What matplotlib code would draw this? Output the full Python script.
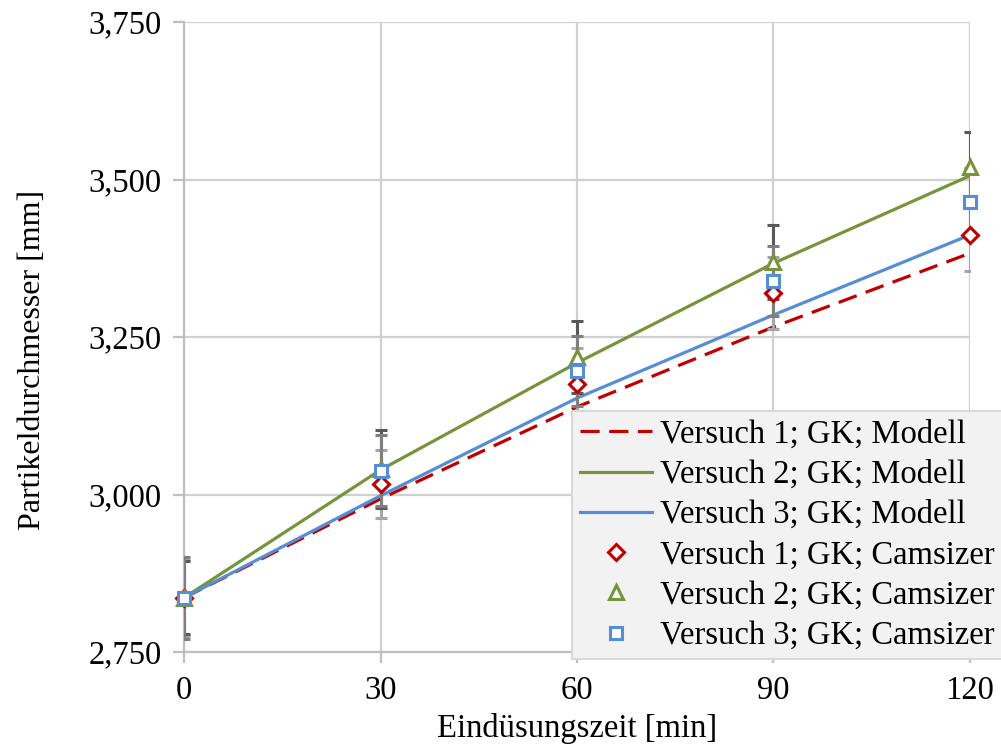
import matplotlib
matplotlib.use("Agg")
import matplotlib.pyplot as plt
from matplotlib.lines import Line2D
from matplotlib.ticker import FuncFormatter

# Eindüsungszeit [min]
zeit = [0, 30, 60, 90, 120]

# Modellkurven
modell_v1 = [2.836, 2.993, 3.139, 3.266, 3.383]
modell_v2 = [2.836, 3.039, 3.209, 3.367, 3.506]
modell_v3 = [2.836, 2.998, 3.153, 3.285, 3.412]

# Camsizer-Messwerte und Standardabweichungen
cam_v1 = [2.836, 3.016, 3.175, 3.320, 3.412]
cam_v2 = [2.836, 3.040, 3.218, 3.369, 3.520]
cam_v3 = [2.836, 3.038, 3.196, 3.339, 3.464]
err_v1 = [0.060, 0.054, 0.057, 0.057, 0.058]
err_v2 = [0.058, 0.062, 0.057, 0.059, 0.055]
err_v3 = [0.065, 0.056, 0.056, 0.056, 0.055]

labels = [
    "Versuch 1; GK; Modell",
    "Versuch 2; GK; Modell",
    "Versuch 3; GK; Modell",
    "Versuch 1; GK; Camsizer",
    "Versuch 2; GK; Camsizer",
    "Versuch 3; GK; Camsizer",
]

red = "#c00000"
green = "#77933c"
blue = "#558ed5"
grid_col = "#d0d0d0"
fs = 23.5

plt.rcParams["font.family"] = ["Liberation Serif", "DejaVu Serif"]
plt.rcParams["font.size"] = fs

fig = plt.figure(figsize=(10.01, 7.49), dpi=100)
ax = fig.add_axes([184 / 1001, 1 - 652 / 749, (970 - 184) / 1001, (652 - 22) / 749])

ax.set_xlim(0, 120)
ax.set_ylim(2.75, 3.75)
ax.set_xticks(zeit)
ax.set_yticks([2.75, 3.0, 3.25, 3.5, 3.75])
ax.yaxis.set_major_formatter(FuncFormatter(lambda v, p: f"{v:.3f}".replace(".", ",")))

ax.grid(True, color=grid_col, linewidth=1.6, zorder=0)
ax.set_axisbelow(True)
for s in ["top", "right"]:
    ax.spines[s].set_visible(False)
for s in ["left", "bottom"]:
    ax.spines[s].set_color("#bfbfbf")
    ax.spines[s].set_linewidth(1.6)
ax.tick_params(axis="both", colors="#bfbfbf", width=1.6, length=8, labelcolor="black",
               labelsize=fs)
ax.tick_params(axis="x", pad=9)
ax.tick_params(axis="y", pad=8)

# Modelllinien
ax.plot(zeit, modell_v1, color=red, lw=2.3, ls=(0, (6, 3)), zorder=3)
ax.plot(zeit, modell_v2, color=green, lw=2.3, zorder=3)
ax.plot(zeit, modell_v3, color=blue, lw=2.3, zorder=3)

# Fehlerbalken
for y, e, c in [(cam_v1, err_v1, "#a6a6a6"), (cam_v2, err_v2, "#595959"), (cam_v3, err_v3, "#7f7f7f")]:
    ax.errorbar(zeit, y, yerr=e, fmt="none", ecolor=c, elinewidth=2.2,
                capsize=4.5, capthick=2.2, zorder=4)

# Messpunkte
mk = dict(ls="none", markersize=9, markeredgewidth=2.2, markerfacecolor="white", zorder=5, clip_on=False)
ax.plot(zeit, cam_v1, marker="D", markeredgecolor=red, **{**mk, "markersize": 8})
ax.plot(zeit, cam_v2, marker="^", markeredgecolor=green, **{**mk, "markersize": 10})
ax.plot(zeit, cam_v3, marker="s", markeredgecolor=blue, **mk)

ax.set_xlabel("Eindüsungszeit [min]", fontsize=fs, labelpad=5)
ax.set_ylabel("Partikeldurchmesser [mm]", fontsize=23, labelpad=30)
ax.yaxis.label.set_y((652 - 360) / 630)

handles = [
    Line2D([], [], color=red, lw=2.3, ls=(0, (6, 3))),
    Line2D([], [], color=green, lw=2.3),
    Line2D([], [], color=blue, lw=2.3),
    Line2D([], [], ls="none", marker="D", markersize=8.5, markeredgewidth=2.2, markerfacecolor="white", markeredgecolor=red),
    Line2D([], [], ls="none", marker="^", markersize=9.5, markeredgewidth=2.2, markerfacecolor="white", markeredgecolor=green),
    Line2D([], [], ls="none", marker="s", markersize=8.5, markeredgewidth=2.2, markerfacecolor="white", markeredgecolor=blue),
]
leg = fig.legend(handles, labels, loc="upper left", bbox_to_anchor=(572 / 1001, 1 - 411 / 749),
                 fontsize=fs, frameon=True, fancybox=False, framealpha=1,
                 facecolor="#f2f2f2", edgecolor="#d9d9d9", handlelength=2.2,
                 handletextpad=0.25, labelspacing=0.3, borderpad=0.25, borderaxespad=0)
leg.get_frame().set_linewidth(1.5)
leg.set_zorder(10)

fig.savefig("out.png", dpi=100)
